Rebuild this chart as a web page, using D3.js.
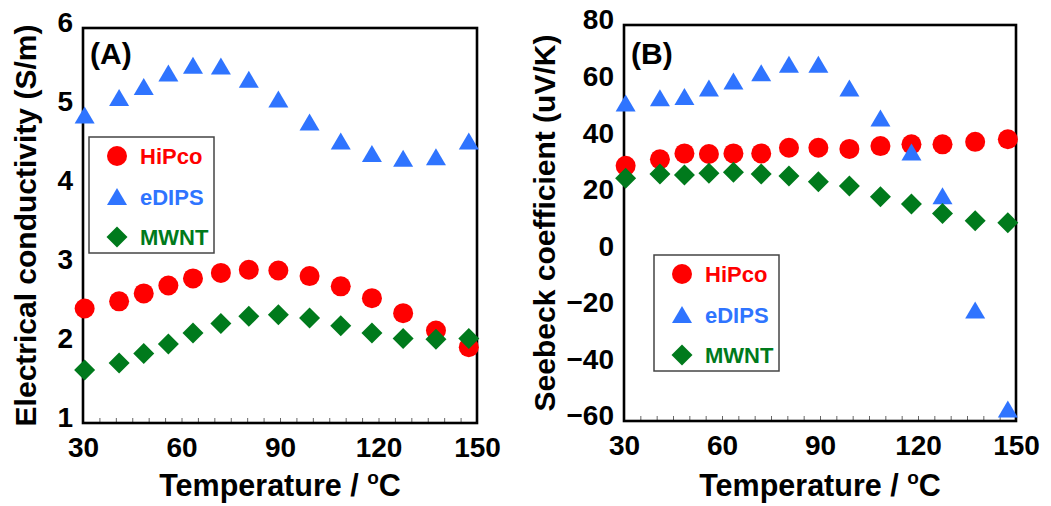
<!DOCTYPE html>
<html><head><meta charset="utf-8">
<script src="https://cdn.jsdelivr.net/npm/d3@7"></script>
<style>
html,body{margin:0;padding:0;background:#fff;}
svg{display:block;}
text{font-family:"Liberation Sans",Arial,sans-serif;font-weight:bold;}
</style></head>
<body>
<svg id="chart" width="1051" height="506"></svg>
<script>
// ---- data ----
const temps = [30.5, 41, 48.5, 56, 63.5, 72, 80.5, 89.5, 99, 108.5, 118, 127.5, 137.5, 147.5];
const seriesNames = ["HiPco", "eDIPS", "MWNT"];
const condHiPco = [2.45, 2.54, 2.64, 2.74, 2.83, 2.90, 2.94, 2.93, 2.86, 2.73, 2.58, 2.39, 2.17, 1.96];
const condEDIPS = [4.90, 5.12, 5.26, 5.43, 5.53, 5.52, 5.35, 5.10, 4.81, 4.57, 4.41, 4.35, 4.37, 4.57];
const condMWNT  = [1.67, 1.76, 1.88, 2.00, 2.14, 2.26, 2.35, 2.37, 2.33, 2.23, 2.14, 2.07, 2.06, 2.07];
const seebHiPco = [30.2, 32.5, 34.6, 34.4, 34.6, 34.6, 36.6, 36.6, 36.2, 37.2, 37.8, 37.8, 38.7, 39.6];
const seebEDIPS = [52.4, 54.3, 54.7, 57.7, 60.2, 63.1, 66.1, 66.1, 57.7, 47.1, 35.1, 19.6, -20.8, -55.8];
const seebMWNT  = [25.8, 27.3, 27.0, 27.6, 27.9, 27.3, 26.6, 24.6, 23.1, 19.3, 16.7, 13.4, 10.8, 10.1];
const xTickLabels = [30, 60, 90, 120, 150];
const condTicks = [1, 2, 3, 4, 5, 6];
const seebTicks = [-60, -40, -20, 0, 20, 40, 60, 80];

const colors = {HiPco: "#ff0000", eDIPS: "#2f74ff", MWNT: "#007a1c"};
const shapes = {HiPco: "circle", eDIPS: "triangle", MWNT: "diamond"};

const svg = d3.select("#chart");

function markerPath(shape) {
  if (shape === "circle") return "M10,0A10,10 0 1,1 -10,0A10,10 0 1,1 10,0Z";
  if (shape === "triangle") return "M0,-8.5L10,8.5L-10,8.5Z";
  return "M0,-10.5L10.5,0L0,10.5L-10.5,0Z";
}

function panel(cfg) {
  const x = d3.scaleLinear().domain([30, 150]).range([cfg.left, cfg.right]);
  const y = d3.scaleLinear().domain(cfg.yDomain).range([cfg.bottom, cfg.top]);
  const g = svg.append("g");

  // minor/major ticks inside
  const tickAxis = d3.axisBottom(x).tickValues(d3.range(30, 151, 5)).tickSize(-5).tickFormat("");
  const ta = g.append("g").attr("transform", `translate(0,${cfg.bottom})`).call(tickAxis);
  ta.select(".domain").remove();
  ta.selectAll("line").attr("stroke", "#666").attr("stroke-width", 1);

  // frame
  g.append("rect").attr("x", cfg.left).attr("y", cfg.top)
    .attr("width", cfg.right - cfg.left).attr("height", cfg.bottom - cfg.top)
    .attr("fill", "none").attr("stroke", "#000").attr("stroke-width", 2.6);

  // x labels
  const xa = g.append("g").attr("transform", `translate(0,${cfg.bottom})`)
    .call(d3.axisBottom(x).tickValues(xTickLabels).tickSize(0).tickPadding(14).tickFormat(d3.format("d")));
  xa.select(".domain").remove();
  xa.selectAll("text").attr("font-size", 28).attr("fill", "#000")
    .style("font-family", '"Liberation Sans",Arial,sans-serif').style("font-weight", "bold");

  // y labels
  const ya = g.append("g").attr("transform", `translate(${cfg.left},-5)`)
    .call(d3.axisLeft(y).tickValues(cfg.yTicks).tickSize(0).tickPadding(10).tickFormat(d3.format("d")));
  ya.select(".domain").remove();
  ya.selectAll("text").attr("font-size", 28).attr("fill", "#000")
    .style("font-family", '"Liberation Sans",Arial,sans-serif').style("font-weight", "bold");

  // titles
  const xt = g.append("text").attr("x", (cfg.left + cfg.right) / 2).attr("y", 496)
    .attr("text-anchor", "middle").attr("font-size", 30.5).attr("fill", "#000");
  xt.append("tspan").text("Temperature / ");
  xt.append("tspan").attr("font-size", 19).attr("dy", -12).text("o");
  xt.append("tspan").attr("dy", 12).text("C");

  g.append("text").attr("transform", `translate(${cfg.yTitleX},${(cfg.top + cfg.bottom) / 2}) rotate(-90)`)
    .attr("text-anchor", "middle").attr("font-size", 30).attr("fill", "#000").text(cfg.yTitle);

  g.append("text").attr("x", cfg.left + 7).attr("y", 64).attr("font-size", 30)
    .attr("fill", "#000").text(cfg.tag);

  // data markers
  cfg.series.forEach((vals, i) => {
    const name = seriesNames[i];
    g.append("g").selectAll("path").data(vals).join("path")
      .attr("transform", (d, j) => `translate(${x(temps[j])},${y(d)})`)
      .attr("d", markerPath(shapes[name]))
      .attr("fill", colors[name]);
  });

  // legend
  const lg = g.append("g").attr("transform", `translate(${cfg.legX},${cfg.legY})`);
  lg.append("rect").attr("width", 125).attr("height", 116)
    .attr("fill", "#fff").attr("stroke", "#444").attr("stroke-width", 1.5);
  seriesNames.forEach((name, i) => {
    const cy = 19 + i * 40.5;
    lg.append("path").attr("transform", `translate(28,${cy})`)
      .attr("d", markerPath(shapes[name])).attr("fill", colors[name]);
    lg.append("text").attr("x", 51).attr("y", cy + 8).attr("font-size", 22)
      .attr("fill", colors[name]).text(name);
  });
}

panel({
  left: 83, right: 477, top: 28, bottom: 423, yDomain: [1, 6], yTicks: condTicks,
  yTitle: "Electrical conductivity (S/m)", yTitleX: 36, tag: "(A)",
  series: [condHiPco, condEDIPS, condMWNT], legX: 89, legY: 137
});
panel({
  left: 624, right: 1016, top: 25, bottom: 421, yDomain: [-60, 80], yTicks: seebTicks,
  yTitle: "Seebeck coefficient (uV/K)", yTitleX: 555, tag: "(B)",
  series: [seebHiPco, seebEDIPS, seebMWNT], legX: 654, legY: 255
});
</script>
</body></html>
